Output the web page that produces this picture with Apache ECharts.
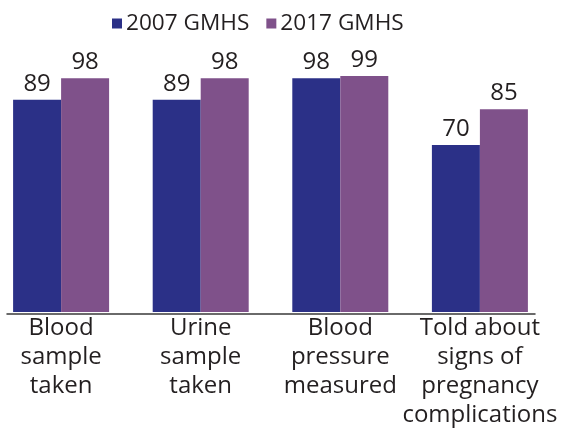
<!DOCTYPE html>
<html><head><meta charset="utf-8">
<script src="https://cdn.jsdelivr.net/npm/echarts@6/dist/echarts.min.js"></script>
<style>html,body{margin:0;padding:0;background:#fff}#c{width:562px;height:430px}</style>
</head><body><div id="c"></div>
<script>
const categories = ['Blood\nsample\ntaken', 'Urine\nsample\ntaken', 'Blood\npressure\nmeasured', 'Told about\nsigns of\npregnancy\ncomplications'];
const seriesNames = ['2007 GMHS', '2017 GMHS'];
const values2007 = [89, 89, 98, 70];
const values2017 = [98, 98, 99, 85];

const FONT = 'Open Sans';
const TXT = '#231f20';
const chart = echarts.init(document.getElementById('c'), null, {renderer: 'canvas'});
chart.setOption({
  animation: false,
  textStyle: {fontFamily: FONT},
  legend: {
    data: seriesNames, left: 112, top: 12, padding: 0, icon: 'rect', itemWidth: 10, itemHeight: 10, itemGap: 17,
    textStyle: {fontFamily: FONT, fontSize: 22.6, color: TXT, padding: [0, 0, 0, -1]}
  },
  grid: [
    {left: 61.1, width: 418.8, top: 73.5, bottom: 116},
    {left: 7, right: 27, top: 73.5, bottom: 116}
  ],
  xAxis: [
    {type: 'category', data: categories, gridIndex: 0, boundaryGap: false,
     axisLine: {show: false}, axisTick: {show: false},
     axisLabel: {interval: 0, margin: 2, fontFamily: FONT, fontSize: 24, lineHeight: 29, color: TXT}},
    {type: 'value', gridIndex: 1, axisLine: {show: true, onZero: false, lineStyle: {color: '#3a3a3a', width: 1.5}},
     axisTick: {show: false}, axisLabel: {show: false}, splitLine: {show: false}}
  ],
  yAxis: [
    {type: 'value', gridIndex: 0, min: 0, max: 100, show: false},
    {type: 'value', gridIndex: 1, show: false}
  ],
  series: [
    {name: seriesNames[0], type: 'bar', data: values2007, barWidth: 48, barGap: '0%', clip: false,
     itemStyle: {color: '#2b3087'},
     label: {show: true, position: 'top', distance: 4, fontFamily: FONT, fontSize: 24, color: TXT}},
    {name: seriesNames[1], type: 'bar', data: values2017, barWidth: 48, barGap: '0%', clip: false,
     itemStyle: {color: '#7f518a'},
     label: {show: true, position: 'top', distance: 4, fontFamily: FONT, fontSize: 24, color: TXT}}
  ]
});
</script></body></html>
